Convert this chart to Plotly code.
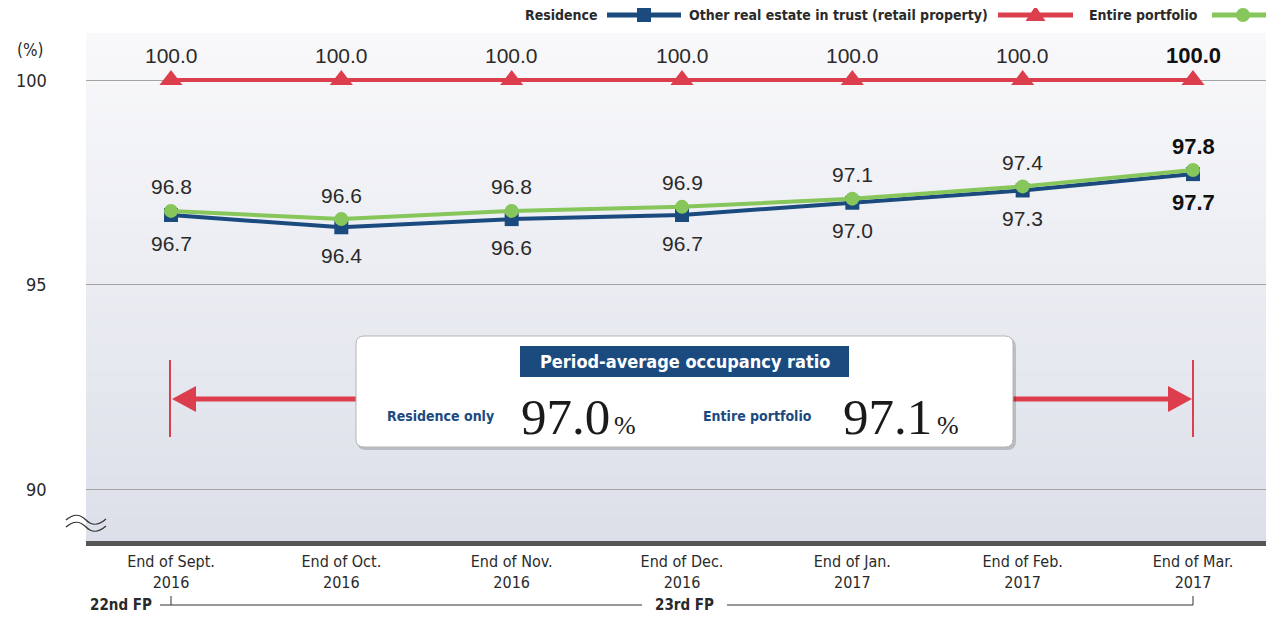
import plotly.graph_objects as go

# ---------------- data ----------------
categories = ["End of Sept.<br>2016", "End of Oct.<br>2016", "End of Nov.<br>2016",
              "End of Dec.<br>2016", "End of Jan.<br>2017", "End of Feb.<br>2017",
              "End of Mar.<br>2017"]
residence = [96.7, 96.4, 96.6, 96.7, 97.0, 97.3, 97.7]
retail = [100.0, 100.0, 100.0, 100.0, 100.0, 100.0, 100.0]
entire = [96.8, 96.6, 96.8, 96.9, 97.1, 97.4, 97.8]
series_names = ["Residence", "Other real estate in trust (retail property)", "Entire portfolio"]
avg_residence = 97.0
avg_entire = 97.1
y_ticks = [90, 95, 100]
periods = ["22nd FP", "23rd FP"]

# ---------------- style ----------------
NAVY = "#1b4a7f"
RED = "#dd3e4d"
GREEN = "#86c65a"
TXT = "#2a2a2a"
NUM = "Liberation Sans, Arial, sans-serif"
COND = "DejaVu Sans Condensed, DejaVu Sans, sans-serif"
SERIF = "Liberation Serif, Times New Roman, serif"

OFF = 8                      # page body margin
W, H = 1274 - 2 * OFF, 622 - 2 * OFF
L, R, T, B = 86 - OFF, W, 33 - OFF, 541 - OFF
PW, PH = R - L, B - T


def px(x):   # reference-picture x pixel -> paper
    return (x - OFF - L) / PW


def py(y):   # reference-picture y pixel -> paper
    return (B - (y - OFF)) / PH


x_idx = list(range(len(categories)))
scale = 1022 / 6.0
x_min = -((171 - OFF) - L) / scale
x_max = 6 + (R - (1193 - OFF)) / scale

fig = go.Figure()
fig.add_trace(go.Scatter(x=x_idx, y=retail, mode="lines+markers", name=series_names[1],
                         line=dict(color=RED, width=4),
                         marker=dict(symbol="triangle-up", size=20, color=RED)))
fig.add_trace(go.Scatter(x=x_idx, y=residence, mode="lines+markers", name=series_names[0],
                         line=dict(color=NAVY, width=4),
                         marker=dict(symbol="square", size=14, color=NAVY)))
fig.add_trace(go.Scatter(x=x_idx, y=entire, mode="lines+markers", name=series_names[2],
                         line=dict(color=GREEN, width=4),
                         marker=dict(symbol="circle", size=14, color=GREEN)))

shapes = []
annotations = []


def ann(x, y, text, size, color=TXT, family=COND, xa="center", ya="middle", **kw):
    d = dict(xref="paper", yref="paper", x=x, y=y, text=text, showarrow=False,
             xanchor=xa, yanchor=ya, font=dict(family=family, size=size, color=color))
    d.update(kw)
    annotations.append(d)


# gradient background of the plot area
n_bands = 60
c_top = (249, 249, 251)
c_bot = (220, 223, 233)
for k in range(n_bands):
    t = (k + 0.5) / n_bands
    c = tuple(round(c_top[j] + (c_bot[j] - c_top[j]) * t) for j in range(3))
    shapes.append(dict(type="rect", xref="paper", yref="paper", x0=0, x1=1,
                       y0=1 - (k + 1) / n_bands - 0.001, y1=1 - k / n_bands,
                       fillcolor="rgb(%d,%d,%d)" % c, line=dict(width=0), layer="below"))

# y tick labels
for v in y_ticks:
    annotations.append(dict(xref="paper", yref="y", x=px(49), y=v, text=str(v), showarrow=False,
                            xanchor="right", yanchor="middle",
                            font=dict(family=COND, size=18, color=TXT)))

# data labels
last = len(categories) - 1
for i in x_idx:
    b = i == last
    for vals, shift in ((retail, 25), (entire, 24), (residence, -28)):
        txt = f"{vals[i]:.1f}"
        annotations.append(dict(x=i, y=vals[i], xref="x", yref="y", yshift=shift,
                                xanchor="center", yanchor="middle",
                                text=f"<b>{txt}</b>" if b else txt, showarrow=False,
                                font=dict(family=NUM, size=22 if b else 21, color="#111" if b else TXT)))

# period-average arrow
ay = 399
shapes.append(dict(type="line", xref="paper", yref="paper", x0=px(190), x1=px(1175),
                   y0=py(ay), y1=py(ay), line=dict(color=RED, width=5), layer="above"))
shapes.append(dict(type="path", xref="paper", yref="paper",
                   path=f"M {px(172)},{py(ay)} L {px(196)},{py(ay-13)} L {px(196)},{py(ay+13)} Z",
                   fillcolor=RED, line=dict(width=0), layer="above"))
shapes.append(dict(type="path", xref="paper", yref="paper",
                   path=f"M {px(1192)},{py(ay)} L {px(1168)},{py(ay-13)} L {px(1168)},{py(ay+13)} Z",
                   fillcolor=RED, line=dict(width=0), layer="above"))
for xv in (170, 1193):
    shapes.append(dict(type="line", xref="paper", yref="paper", x0=px(xv), x1=px(xv),
                       y0=py(360), y1=py(437), line=dict(color=RED, width=2), layer="above"))


def rrect(x0, y0, x1, y1, r):
    return (f"M {px(x0+r)},{py(y0)} L {px(x1-r)},{py(y0)} Q {px(x1)},{py(y0)} {px(x1)},{py(y0+r)} "
            f"L {px(x1)},{py(y1-r)} Q {px(x1)},{py(y1)} {px(x1-r)},{py(y1)} "
            f"L {px(x0+r)},{py(y1)} Q {px(x0)},{py(y1)} {px(x0)},{py(y1-r)} "
            f"L {px(x0)},{py(y0+r)} Q {px(x0)},{py(y0)} {px(x0+r)},{py(y0)} Z")


# white info box with shadow
shapes.append(dict(type="path", xref="paper", yref="paper", path=rrect(357, 338, 1016, 450, 9),
                   fillcolor="rgba(0,0,0,0.18)", line=dict(width=0), layer="above"))
shapes.append(dict(type="path", xref="paper", yref="paper", path=rrect(356, 336, 1013, 447, 8),
                   fillcolor="white", line=dict(color="#b5b5b5", width=1), layer="above"))
shapes.append(dict(type="rect", xref="paper", yref="paper", x0=px(520), x1=px(849),
                   y0=py(377), y1=py(346), fillcolor=NAVY, line=dict(width=0), layer="above"))
ann(px(684.5), py(361.5), "<b>Period-average occupancy ratio</b>", 18, color="white")
ann(px(496), py(416), "<b>Residence only</b>", 14, color=NAVY, xa="right")
ann(px(519), py(417), f"{avg_residence:.1f}", 51, color="#1a1a1a", family=SERIF, xa="left")
ann(px(612), py(425), "%", 26, color="#1a1a1a", family=SERIF, xa="left")
ann(px(814), py(416), "<b>Entire portfolio</b>", 14, color=NAVY, xa="right")
ann(px(841), py(417), f"{avg_entire:.1f}", 51, color="#1a1a1a", family=SERIF, xa="left")
ann(px(935), py(425), "%", 26, color="#1a1a1a", family=SERIF, xa="left")

# custom legend (text first, then sample)
leg_y = 15
leg = [(series_names[0], 600, 607, 681, NAVY, "square"),
       (series_names[1], 990, 998, 1073, RED, "triangle"),
       (series_names[2], 1200, 1212, 1274, GREEN, "circle")]
for name, tx, lx0, lx1, col, sym in leg:
    ann(px(tx), py(leg_y), f"<b>{name}</b>", 14, xa="right")
    shapes.append(dict(type="line", xref="paper", yref="paper", x0=px(lx0), x1=px(lx1),
                       y0=py(leg_y), y1=py(leg_y), line=dict(color=col, width=5), layer="above"))
    cx = (lx0 + lx1) / 2
    if sym == "square":
        shapes.append(dict(type="rect", xref="paper", yref="paper", x0=px(cx - 7), x1=px(cx + 7),
                           y0=py(leg_y + 7), y1=py(leg_y - 7), fillcolor=col, line=dict(width=0)))
    elif sym == "triangle":
        shapes.append(dict(type="path", xref="paper", yref="paper",
                           path=f"M {px(cx-10)},{py(leg_y+6)} L {px(cx+10)},{py(leg_y+6)} L {px(cx)},{py(leg_y-9)} Z",
                           fillcolor=col, line=dict(width=0)))
    else:
        shapes.append(dict(type="circle", xref="paper", yref="paper", x0=px(cx - 7), x1=px(cx + 7),
                           y0=py(leg_y + 7), y1=py(leg_y - 7), fillcolor=col, line=dict(width=0)))

# (%) unit label
ann(px(30), py(50), "(%)", 17)

# axis break mark
for dy in (0, 7):
    y0 = 520 + dy
    shapes.append(dict(type="path", xref="paper", yref="paper",
                       path=(f"M {px(66)},{py(y0)} C {px(74)},{py(y0-7)} {px(80)},{py(y0-6)} {px(86)},{py(y0)} "
                             f"S {px(98)},{py(y0+6)} {px(106)},{py(y0-1)}"),
                       line=dict(color="#333", width=1.3), layer="above"))

# fiscal period bracket
by = 605
for x0, x1 in ((160, 642), (727, 1193)):
    shapes.append(dict(type="line", xref="paper", yref="paper", x0=px(x0), x1=px(x1),
                       y0=py(by), y1=py(by), line=dict(color="#333", width=1)))
for xv in (171, 1193):
    shapes.append(dict(type="line", xref="paper", yref="paper", x0=px(xv), x1=px(xv),
                       y0=py(by), y1=py(596), line=dict(color="#333", width=1)))
ann(px(154), py(605), f"<b>{periods[0]}</b>", 15, xa="right")
ann(px(684), py(605), f"<b>{periods[1]}</b>", 15)

fig.update_layout(
    width=W, height=H,
    margin=dict(l=L, r=W - R, t=T, b=H - B, pad=0),
    paper_bgcolor="white", plot_bgcolor="rgba(0,0,0,0)",
    showlegend=False,
    shapes=shapes, annotations=annotations,
    xaxis=dict(range=[x_min, x_max], tickmode="array", tickvals=x_idx, ticktext=categories,
               showgrid=False, zeroline=False, showline=True, linecolor="#565656", linewidth=5,
               ticks="", ticklabelstandoff=2, tickfont=dict(family=COND, size=16, color=TXT),
               fixedrange=True),
    yaxis=dict(range=[88.73, 101.15], tickmode="array", tickvals=y_ticks,
               showticklabels=False, showgrid=True, gridcolor="#a3a3a3", gridwidth=1,
               zeroline=False, showline=False, ticks="", fixedrange=True),
)

fig.write_html("out.html")
